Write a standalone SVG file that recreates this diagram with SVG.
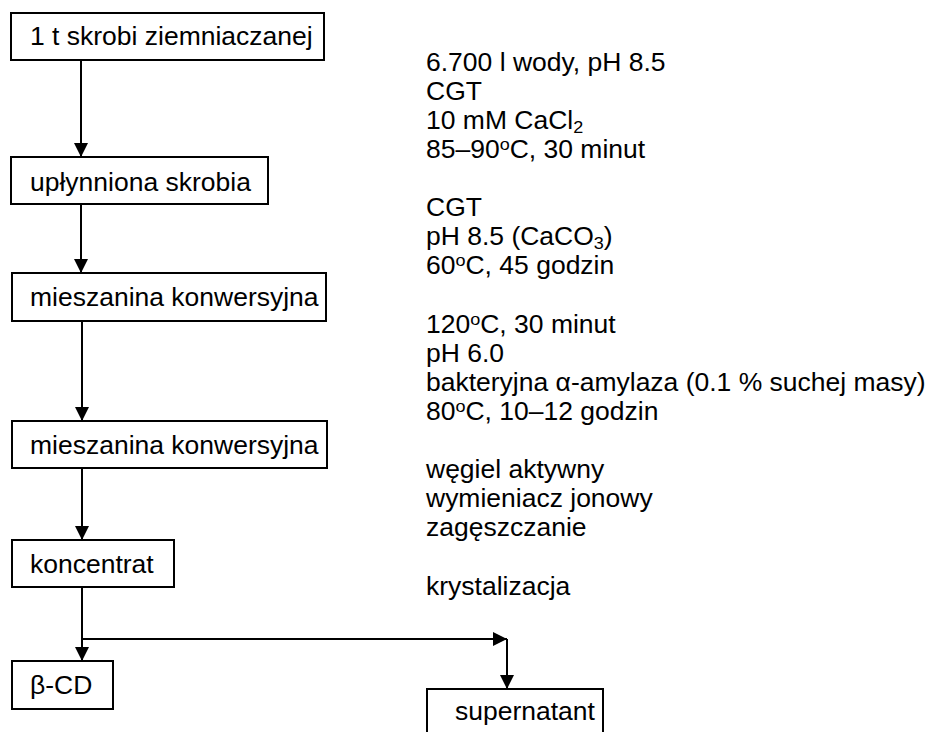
<svg xmlns="http://www.w3.org/2000/svg" width="929" height="732" viewBox="0 0 929 732">
  <style>
    text { font-family: "Liberation Sans", Arial, sans-serif; font-size: 25px; fill: #000; }
    .box { fill: #fff; stroke: #000; stroke-width: 2; }
    .conn { fill: none; stroke: #000; stroke-width: 2; }
    .sub { font-size: 17px; }
  </style>
  <defs>
    <marker id="arr" markerUnits="userSpaceOnUse" markerWidth="14" markerHeight="14" viewBox="0 0 14 14" refX="14" refY="7" orient="auto">
      <path d="M0,0 L14,7 L0,14 z" fill="#000"/>
    </marker>
  </defs>
  <rect width="929" height="732" fill="#fff"/>

  <g id="connectors">
    <line class="conn" x1="81" y1="60" x2="81" y2="157" marker-end="url(#arr)"/>
    <line class="conn" x1="81" y1="204" x2="81" y2="273" marker-end="url(#arr)"/>
    <line class="conn" x1="82" y1="321" x2="82" y2="421" marker-end="url(#arr)"/>
    <line class="conn" x1="82" y1="468" x2="82" y2="540" marker-end="url(#arr)"/>
    <line class="conn" x1="82" y1="587" x2="82" y2="661" marker-end="url(#arr)"/>
    <line class="conn" x1="82" y1="639" x2="507" y2="639" marker-end="url(#arr)"/>
    <line class="conn" x1="507" y1="639" x2="507" y2="689" marker-end="url(#arr)"/>
  </g>

  <g id="n1">
    <rect class="box" x="11" y="13" width="313" height="47"/>
    <text transform="translate(30,45) scale(1.06,1)">1 t skrobi ziemniaczanej</text>
  </g>
  <g id="n2">
    <rect class="box" x="11" y="157" width="257" height="47"/>
    <text transform="translate(30,191) scale(1.06,1)">upłynniona skrobia</text>
  </g>
  <g id="n3">
    <rect class="box" x="12" y="273" width="314" height="48"/>
    <text transform="translate(30,306) scale(1.06,1)">mieszanina konwersyjna</text>
  </g>
  <g id="n4">
    <rect class="box" x="12" y="421" width="315" height="47"/>
    <text transform="translate(30,454) scale(1.06,1)">mieszanina konwersyjna</text>
  </g>
  <g id="n5">
    <rect class="box" x="12" y="540" width="162" height="47"/>
    <text transform="translate(30,573) scale(1.06,1)">koncentrat</text>
  </g>
  <g id="n6">
    <rect class="box" x="12" y="661" width="101" height="48"/>
    <text transform="translate(30,694) scale(1.06,1)">β-CD</text>
  </g>
  <g id="n7">
    <rect class="box" x="427" y="689" width="176" height="60"/>
    <text transform="translate(455,720) scale(1.06,1)">supernatant</text>
  </g>

  <g id="conditions">
    <text transform="translate(426,71) scale(1.06,1)">6.700 l wody, pH 8.5</text>
    <text transform="translate(426,100) scale(1.06,1)">CGT</text>
    <text transform="translate(426,129) scale(1.06,1)">10 mM CaCl<tspan class="sub" dy="4">2</tspan></text>
    <text transform="translate(426,158) scale(1.06,1)">85–90<tspan class="sub" dy="-8">o</tspan><tspan dy="8">C, 30 minut</tspan></text>

    <text transform="translate(426,216) scale(1.06,1)">CGT</text>
    <text transform="translate(426,245) scale(1.06,1)">pH 8.5 (CaCO<tspan class="sub" dy="4">3</tspan><tspan dy="-4">)</tspan></text>
    <text transform="translate(426,274) scale(1.06,1)">60<tspan class="sub" dy="-8">o</tspan><tspan dy="8">C, 45 godzin</tspan></text>

    <text transform="translate(426,333) scale(1.06,1)">120<tspan class="sub" dy="-8">o</tspan><tspan dy="8">C, 30 minut</tspan></text>
    <text transform="translate(426,362) scale(1.06,1)">pH 6.0</text>
    <text transform="translate(426,391) scale(1.06,1)">bakteryjna α-amylaza (0.1 % suchej masy)</text>
    <text transform="translate(426,420) scale(1.06,1)">80<tspan class="sub" dy="-8">o</tspan><tspan dy="8">C, 10–12 godzin</tspan></text>

    <text transform="translate(426,478) scale(1.06,1)">węgiel aktywny</text>
    <text transform="translate(426,507) scale(1.06,1)">wymieniacz jonowy</text>
    <text transform="translate(426,536) scale(1.06,1)">zagęszczanie</text>

    <text transform="translate(426,595) scale(1.06,1)">krystalizacja</text>
  </g>
</svg>
